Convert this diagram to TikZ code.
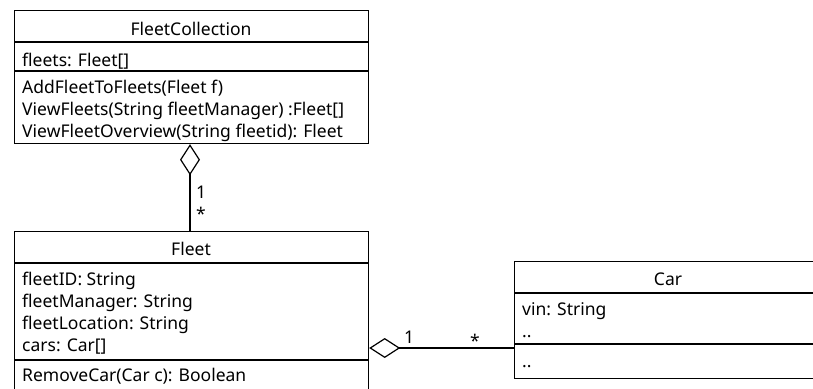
\documentclass[tikz,border=0pt]{standalone}
\usepackage{fontspec}
\setmainfont{Noto Sans}
\usetikzlibrary{arrows.meta}
\begin{document}
\begin{tikzpicture}[x=1pt,y=-1pt,
  classbox/.style={draw,line width=1.2pt,rectangle,inner sep=0pt,anchor=north west},
  sepline/.style={line width=1.2pt},
  txt/.style={inner sep=0pt,anchor=base west,font=\fontsize{17.5}{21}\selectfont},
  ttl/.style={inner sep=0pt,anchor=base,font=\fontsize{17.5}{21}\selectfont},
  mult/.style={inner sep=0pt,anchor=base west,font=\fontsize{17.5}{21}\selectfont},
  agg/.style={line width=1.2pt,{Diamond[open,length=31pt,width=20pt,line width=1.2pt]}-}]
\useasboundingbox (0,0) rectangle (813,388);
\clip (0,0) rectangle (813,388);

% FleetCollection
\node[classbox,minimum width=354pt,minimum height=133pt] (fc) at (14,10) {};
\draw[sepline] (14,42) -- (368,42);
\draw[sepline] (14,71) -- (368,71);
\node[ttl] (fct) at (191,35) {FleetCollection};
\node[txt] (fca) at (22,66) {fleets: Fleet[]};
\node[txt] (fcm1) at (22,93) {AddFleetToFleets(Fleet f)};
\node[txt] (fcm2) at (22,115) {ViewFleets(String fleetManager) :Fleet[]};
\node[txt] (fcm3) at (22,137) {ViewFleetOverview(String fleetid): Fleet};

% Fleet
\node[classbox,minimum width=354pt,minimum height=175pt] (fleet) at (14,231) {};
\draw[sepline] (14,263) -- (368,263);
\draw[sepline] (14,360) -- (368,360);
\node[ttl] (flt) at (191,255) {Fleet};
\node[txt] (fla1) at (22,285) {fleetID: String};
\node[txt] (fla2) at (22,307) {fleetManager: String};
\node[txt] (fla3) at (22,329) {fleetLocation: String};
\node[txt] (fla4) at (22,351) {cars: Car[]};
\node[txt] (flm1) at (22,381) {RemoveCar(Car c): Boolean};

% Car
\node[classbox,minimum width=308pt,minimum height=117pt] (car) at (514,261) {};
\draw[sepline] (514,293) -- (822,293);
\draw[sepline] (514,344) -- (822,344);
\node[ttl] (cart) at (668,285) {Car};
\node[txt] (cara1) at (522,315) {vin: String};
\node[txt] (cara2) at (522,337) {..};
\node[txt] (carm1) at (522,367) {..};

% associations
\draw[agg] (fc.south -| 190,0) -- (fleet.north -| 190,0);
\node[mult] (m1) at (196,198) {1};
\node[mult] (m2) at (196,220) {*};

\coordinate (carlink) at (514,348);
\draw[agg] (fleet.east |- carlink) -- (carlink);
\node[mult] (m3) at (404,343) {1};
\node[mult] (m4) at (470,347) {*};
\end{tikzpicture}
\end{document}
